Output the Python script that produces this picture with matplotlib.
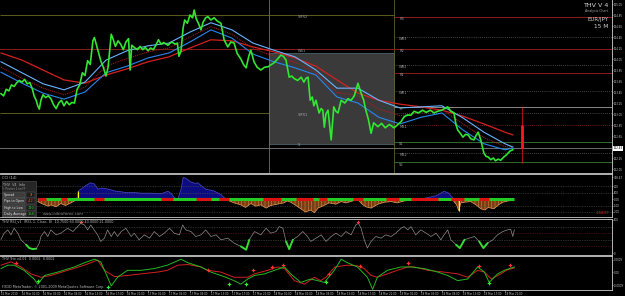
import matplotlib.pyplot as plt
import numpy as np
from matplotlib.patches import Rectangle

# ---------------------------------------------------------------
# EUR/JPY 15M chart, x in hours after 15 Mar 2010 21:00
# ---------------------------------------------------------------
time_ticks = list(range(0, 100, 4))
time_labels = ["15 Mar 2010", "16 Mar 01:00", "16 Mar 05:00", "16 Mar 09:00", "16 Mar 13:00",
               "16 Mar 17:00", "16 Mar 21:00", "17 Mar 01:00", "17 Mar 05:00", "17 Mar 09:00",
               "17 Mar 13:00", "17 Mar 17:00", "17 Mar 21:00", "18 Mar 01:00", "18 Mar 05:00",
               "18 Mar 09:00", "18 Mar 13:00", "18 Mar 17:00", "18 Mar 21:00", "19 Mar 01:00",
               "19 Mar 05:00", "19 Mar 09:00", "19 Mar 13:00", "19 Mar 17:00", "19 Mar 21:00"]

price_hours = [0.0, 0.5, 1.0, 1.5, 2.0, 2.5, 3.0, 3.5, 4.0, 4.5, 5.0, 5.5, 6.0, 6.3, 6.7, 7.0, 7.3, 7.6,
               8.0, 8.5, 9.0, 9.5, 10.0, 10.5, 11.0, 11.5, 12.0, 12.5, 13.0, 13.5, 14.0, 14.5, 15.0,
               15.5, 16.0, 16.5, 17.0, 17.5, 17.8, 18.2, 18.5, 19.0, 19.5, 20.0, 20.4, 20.7, 21.0,
               21.4, 21.8, 22.3, 22.8, 23.3, 23.8, 24.3, 24.6, 24.9, 25.4, 26.0, 26.5, 27.0, 27.5,
               28.0, 28.5, 29.0, 29.5, 30.0, 30.5, 31.0, 31.8, 32.5, 33.2, 33.6, 33.9, 34.3, 34.7,
               35.0, 35.5, 36.0, 36.5, 36.8, 37.2, 37.6, 38.1, 38.5, 39.0, 39.4, 40.0, 40.6, 41.2,
               41.9, 42.5, 43.2, 43.8, 44.4, 45.0, 45.7, 46.2, 46.7, 47.2, 47.6, 48.2, 48.8, 49.5,
               50.2, 50.9, 51.5, 52.0, 52.7, 53.3, 53.8, 54.3, 54.9, 55.4, 55.8, 56.5, 57.2, 57.7,
               58.1, 58.5, 58.9, 59.3, 59.6, 60.0, 60.6, 61.0, 61.3, 61.6, 61.9, 62.3, 62.9, 63.2,
               63.4, 63.8, 64.2, 64.8, 65.5, 66.1, 66.7, 67.3, 68.0, 68.6, 69.1, 69.5, 70.0, 70.5,
               71.0, 71.8, 72.5, 73.2, 74.0, 74.9, 75.5, 76.2, 76.8, 77.4, 78.1, 78.7, 79.5, 80.3,
               81.0, 81.8, 82.5, 83.2, 84.0, 84.5, 85.1, 85.7, 86.3, 86.7, 87.0, 87.5, 88.0, 88.5,
               89.0, 89.5, 90.1, 90.5, 90.9, 91.4, 92.0, 92.4, 92.8, 93.3, 93.8, 94.2, 94.7, 95.2,
               95.8, 96.2, 96.6, 97.0, 97.5]
price_close = [123.42, 123.38, 123.50, 123.47, 123.58, 123.55, 123.62, 123.66, 123.63, 123.68, 123.60,
               123.62, 123.50, 123.38, 123.30, 123.20, 123.14, 123.30, 123.40, 123.35, 123.38, 123.33,
               123.22, 123.15, 123.25, 123.30, 123.20, 123.28, 123.22, 123.26, 123.25, 123.50, 123.58,
               123.80, 123.75, 124.02, 123.95, 124.38, 124.44, 124.30, 124.20, 124.02, 123.90, 123.74,
               123.90, 124.20, 124.50, 124.40, 124.28, 124.38, 124.32, 124.22, 124.36, 124.42, 123.85,
               124.30, 124.26, 124.22, 124.28, 124.22, 124.26, 124.20, 124.25, 124.22, 124.30, 124.40,
               124.32, 124.35, 124.30, 124.36, 124.32, 124.34, 124.10, 124.20, 124.62, 124.76, 124.70,
               124.85, 124.80, 124.94, 124.78, 124.70, 124.58, 124.72, 124.80, 124.82, 124.76, 124.80,
               124.74, 124.70, 124.40, 124.27, 124.36, 124.34, 124.15, 124.05, 123.95, 123.89, 124.10,
               124.21, 124.00, 123.90, 123.85, 123.90, 123.91, 123.95, 123.98, 124.05, 124.12, 124.10,
               124.03, 123.72, 123.74, 123.70, 123.66, 123.72, 123.63, 123.70, 123.72, 123.30, 123.36,
               123.20, 123.30, 123.07, 123.15, 123.12, 122.81, 123.05, 123.12, 122.58, 122.95, 123.18,
               123.10, 123.07, 123.30, 123.25, 123.33, 123.30, 123.38, 123.61, 123.43, 123.30, 123.12,
               122.95, 122.70, 122.89, 122.82, 122.88, 122.80, 122.86, 122.80, 122.85, 122.91, 123.00,
               123.03, 123.03, 123.10, 123.07, 123.12, 123.08, 123.12, 123.07, 123.10, 123.12, 123.15,
               123.18, 123.10, 123.07, 122.85, 122.76, 122.70, 122.63, 122.68, 122.67, 122.60, 122.58,
               122.66, 122.72, 122.58, 122.34, 122.28, 122.27, 122.22, 122.25, 122.20, 122.23, 122.21,
               122.27, 122.30, 122.34, 122.38, 122.40]

# moving averages (every 4 hours)
ma_hours = [0, 4, 8, 12, 16, 20, 24, 28, 32, 36, 40, 44, 48, 52, 56, 60, 64, 68, 72, 76, 80, 84, 88,
            92, 96, 97.5]
ma_slow = [124.16, 124.03, 123.85, 123.67, 123.61, 123.76, 123.87, 124.00, 124.09, 124.25, 124.40,
           124.38, 124.27, 124.18, 124.07, 123.92, 123.67, 123.43, 123.30, 123.23, 123.18, 123.12,
           123.01, 122.87, 122.72, 122.67]
band_upper = [124.00, 123.80, 123.60, 123.49, 123.63, 124.03, 124.20, 124.29, 124.34, 124.54, 124.71,
              124.58, 124.34, 124.21, 124.09, 123.85, 123.52, 123.52, 123.30, 123.16, 123.18, 123.20,
              122.98, 122.72, 122.51, 122.45]
band_mid = [123.90, 123.70, 123.52, 123.40, 123.54, 123.92, 124.06, 124.18, 124.25, 124.45, 124.64,
            124.50, 124.24, 124.10, 123.99, 123.80, 123.44, 123.38, 123.14, 123.02, 123.08, 123.13,
            122.87, 122.62, 122.46, 122.44]
band_lower = [123.81, 123.61, 123.43, 123.32, 123.45, 123.80, 123.92, 124.07, 124.16, 124.36, 124.58,
              124.43, 124.14, 124.00, 123.89, 123.76, 123.36, 123.25, 122.99, 122.87, 122.99, 123.07,
              122.76, 122.51, 122.40, 122.43]

price_ticks = [125.05, 124.85, 124.65, 124.45, 124.25, 124.05, 123.85, 123.65, 123.45, 123.25,
               123.05, 122.85, 122.65, 122.25, 122.05]
bid_price = 122.43

# pivot levels drawn right of the session line
pivot_names = ["R3", "WR3", "R2", "WR2", "R1", "WR1", "PP", "", "MS1", "S1", "MS2", "S2"]
pivot_levels = [124.81, 124.45, 124.23, 123.94, 123.80, 123.47, 123.18, 123.06, 122.85, 122.55,
                122.35, 122.17]
pivot_styles = ["r", "d", "r", "d", "r", "d", "p", "d", "rd", "g", "d", "g"]
left_names = ["SMR2", "WS1", "SMR1", "S"]
left_levels = [124.85, 124.23, 123.07, 122.53]

session_start = 51.05
session_end = 74.86
box_top, box_bottom = 124.16, 122.50
day_hour = 99.2
day_high, day_low = 123.18, 122.16
day_open, day_close = 122.85, 122.43

# CCI (14)
cci_hours = [7.0, 8.0, 9.0, 9.5, 10.5, 11.4, 12.3, 13.3, 14.0, 14.5, 14.7, 15.2, 16.2, 17.1, 17.8,
             18.5, 19.2, 20.0, 21.0, 21.9, 23.0, 23.8, 25.3, 26.7, 28.6, 30.5, 31.8, 32.5, 33.0,
             33.7, 34.3, 34.7, 35.2, 36.2, 37.0, 37.5, 38.2, 39.0, 40.4, 41.9, 42.5, 43.2, 44.4,
             45.7, 46.6, 47.6, 48.5, 49.5, 50.5, 51.4, 52.6, 53.9, 54.5, 55.2, 56.2, 57.1, 58.0,
             59.0, 59.7, 60.4, 61.5, 62.5, 63.8, 64.8, 65.7, 67.0, 68.0, 68.8, 69.5, 70.5, 71.8,
             73.0, 74.3, 75.5, 76.8, 78.1, 79.3, 80.6, 81.8, 82.9, 83.8, 84.4, 85.3, 86.0, 86.3,
             86.8, 87.2, 87.6, 88.2, 89.5, 90.5, 91.4, 92.2, 92.8, 93.9, 94.8, 95.6, 96.6, 97.7]
cci_values = [-40, -80, -110, -90, -120, -70, -100, -60, -30, 20, 120, 150, 210, 250, 230, 150, 170,
              160, 140, 120, 110, 100, 100, 90, 90, 80, 120, 80, 20, 0, 150, 330, 320, 260, 240,
              250, 200, 150, 130, 70, 20, -20, -60, -90, -130, -70, -110, -90, -140, -100, -80,
              -60, -30, -50, -100, -150, -200, -170, -210, -140, -100, -60, -80, -40, -60, -30,
              -10, -80, -120, -140, -80, -50, -40, -60, -30, -20, -10, 10, 30, 50, 90, 120, 90, 20,
              -40, -90, -180, -60, -50, -40, -90, -150, -170, -130, -150, -90, -50, -30, -20]
cci_spike_hours = [14.7, 87.2]
cci_spike_values = [120, -180]
band_red_start = [7.0, 11.4, 17.7, 30.5, 37.1, 41.5, 49.9, 56.2, 60.6, 67.0, 73.3, 78.1, 85.7, 91.0]
band_red_end = [8.6, 12.6, 19.6, 32.8, 40.0, 43.4, 53.3, 59.4, 62.1, 69.0, 75.8, 83.2, 88.2, 93.0]
cci_levels = [200, 100, -100, -200]

info_rows = ["Spread", "Pips to Open", "High to Low", "Daily Average"]
info_values = ["3", "-42", "120", "158"]
info_colors = ["#ff9900", "#ff3333", "#33cc33", "#33cc33"]

# THV RSI
rsi_hours = [0, 0.6, 1.3, 1.9, 2.5, 3.2, 3.8, 4.8, 5.4, 6.0, 6.7, 7.3, 7.6, 8.3, 8.9, 9.5, 10.5, 11.4,
             12.7, 13.7, 14.6, 15.2, 15.9, 16.5, 17.1, 18.4, 19.0, 19.7, 20.3, 21.0, 21.6, 22.2, 22.9,
             23.8, 24.8, 25.4, 26.3, 27.3, 28.3, 29.2, 30.2, 31.1, 32.1, 33.0, 34.0, 34.6, 35.2,
             36.2, 37.1, 38.1, 39.0, 40.0, 41.0, 41.9, 43.2, 44.4, 45.7, 46.7, 47.3, 48.3, 49.5,
             50.5, 51.4, 52.4, 53.0, 53.7, 54.3, 54.9, 55.6, 56.5, 57.5, 58.4, 59.0, 60.0, 61.0,
             61.9, 62.9, 63.8, 64.8, 65.7, 66.7, 67.6, 68.1, 68.6, 69.2, 69.8, 70.5, 71.4, 72.4,
             73.3, 74.3, 75.2, 76.2, 76.8, 77.5, 78.1, 79.0, 80.0, 81.0, 81.9, 82.9, 83.8, 84.4,
             85.1, 85.7, 86.7, 87.4, 88.3, 89.2, 90.2, 91.1, 91.9, 92.7, 93.7, 94.6, 95.6, 96.5,
             97.1, 97.5, 97.8]
rsi_values = [41, 60, 70, 55, 75, 60, 40, 25, 15, 12, 13, 30, 50, 65, 50, 70, 55, 60, 75, 65, 80, 90,
              85, 70, 85, 55, 35, 45, 70, 50, 65, 50, 65, 75, 50, 60, 40, 55, 45, 65, 50, 60, 75, 60,
              55, 85, 70, 65, 50, 55, 70, 50, 55, 40, 45, 30, 20, 10, 40, 65, 55, 75, 60, 65, 80, 75,
              35, 12, 40, 50, 65, 50, 35, 45, 55, 35, 50, 60, 50, 65, 55, 85, 90, 75, 40, 15, 35, 50,
              45, 55, 50, 60, 75, 80, 70, 80, 55, 70, 60, 50, 60, 40, 55, 70, 40, 25, 15, 40, 45, 50,
              35, 15, 30, 40, 55, 65, 70, 72, 50, 70]
rsi_buy_start = [4.8, 45.0, 54.3, 86.7, 91.1]
rsi_buy_end = [6.7, 47.3, 55.6, 88.3, 92.7]
rsi_sell_hours = [15.2, 68.1]
rsi_sell_values = [94, 94]
rsi_levels = [80, 60, 40, 20]

# THV Trix
trix_green_hours = [0, 1.3, 2.5, 4.4, 6.3, 7.0, 8.3, 10.8, 14.0, 15.9, 17.8, 19.0, 20.3, 21.0, 22.2,
                    24.1, 26.7, 29.2, 31.7, 34.3, 35.6, 38.1, 40.0, 42.5, 44.4, 45.7, 47.0, 48.3,
                    50.2, 52.1, 54.0, 55.2, 57.1, 59.0, 60.3, 61.6, 63.5, 64.8, 66.0, 67.9, 69.8,
                    70.8, 71.7, 73.6, 76.2, 78.1, 80.6, 83.2, 85.1, 87.0, 88.9, 90.8, 92.1, 93.0,
                    94.6, 95.9, 97.8]
trix_green = [0.00024, 0.00045, 0.00045, 0.00013, -0.00041, -0.00073, -0.00019, 0.00002, 0.00034,
              0.00060, 0.00082, 0.00066, -0.00030, -0.00084, -0.00030, 0.00013, 0.00013, 0.00024,
              0.00045, 0.00082, 0.00060, 0.00034, 0.00002, -0.00026, -0.00051, -0.00073, -0.00041,
              -0.00019, -0.00009, 0.00013, 0.00034, -0.00009, -0.00062, -0.00041, -0.00051,
              -0.00062, 0.00013, 0.00082, 0.00060, 0.00034, -0.00030, -0.00105, -0.00030, 0.00013,
              0.00034, 0.00034, 0.00024, 0.00002, -0.00019, -0.00051, -0.00041, 0.00034, 0.00002,
              -0.00062, -0.00009, 0.00013, 0.00034]
trix_red_hours = [0, 1.9, 3.8, 5.7, 7.6, 9.5, 12.7, 15.9, 18.4, 19.7, 21.6, 24.1, 26.7, 29.8, 31.7,
                  33.7, 35.6, 38.1, 39.4, 41.9, 44.4, 47.0, 48.3, 50.8, 52.7, 54.0, 55.9, 57.8, 59.7,
                  60.9, 61.9, 63.6, 66.0, 67.9, 69.2, 70.5, 71.7, 73.6, 75.5, 77.5, 78.7, 81.3, 84.4,
                  87.0, 88.9, 90.8, 92.1, 93.4, 95.2, 96.5, 97.8]
trix_red = [0.00045, 0.00066, 0.00034, -0.00009, -0.00030, -0.00019, 0.00013, 0.00045, 0.00077,
            0.00013, -0.00026, -0.00019, -0.00009, 0.00002, 0.00013, 0.00045, 0.00049, 0.00034,
            0.00013, 0.00002, -0.00030, -0.00030, -0.00009, 0.00013, 0.00034, 0.00024, -0.00051,
            -0.00073, -0.00030, -0.00051, -0.00030, 0.00034, 0.00045, 0.00041, 0.00024, -0.00019,
            -0.00030, -0.00009, 0.00013, 0.00034, 0.00034, 0.00013, 0.00002, -0.00009, -0.00030,
            0.00013, 0.00002, -0.00041, -0.00009, 0.00017, 0.00028]
trix_sell_hours = [2.9, 39.4, 48.1, 51.7, 53.7, 62.5, 68.3, 77.5, 91.0, 96.9]
trix_sell_values = [0.00060, 0.00013, 0.00017, 0.00034, 0.00045, -0.00009, 0.00041, 0.00060,
                    0.00038, 0.00045]
trix_buy_hours = [7.0, 20.3, 43.5, 46.7, 61.9, 93.0]
trix_buy_values = [-0.00051, -0.00088, -0.00069, -0.00069, -0.00062, -0.00066]

# ---------------------------------------------------------------
plt.rcParams['font.family'] = ['DejaVu Sans']
plt.rcParams['hatch.linewidth'] = 0.4
fig = plt.figure(figsize=(6.25, 2.96), dpi=100, facecolor='black')
W = 612 / 625
ax1 = fig.add_axes([0, 1 - 173 / 296, W, 173 / 296])
ax2 = fig.add_axes([0, 1 - 217 / 296, W, 43 / 296])
ax3 = fig.add_axes([0, 1 - 255 / 296, W, 36.5 / 296])
ax4 = fig.add_axes([0, 1 - 289.8 / 296, W, 33.8 / 296])

label_color = '#c8c8c8'
for ax in [ax1, ax2, ax3, ax4]:
    ax.set_facecolor('black')
    ax.set_xlim(-0.19, 116.4)
    for side in ['top', 'bottom', 'right']:
        ax.spines[side].set_color('#cfcfcf')
        ax.spines[side].set_linewidth(0.6)
    ax.spines['left'].set_visible(False)
    ax.yaxis.tick_right()
    ax.tick_params(axis='y', colors=label_color, labelsize=1.9, length=1.0, width=0.4, pad=0.5)
    ax.tick_params(axis='x', bottom=False, labelbottom=False)
ax1.spines['top'].set_visible(False)

# ---- main price panel ----
ax1.set_ylim(121.978, 125.123)
ax1.add_patch(Rectangle((session_start, box_bottom), session_end - session_start, box_top - box_bottom,
                        facecolor='#3a3a3a', edgecolor='#55707a', linewidth=0.5, zorder=0))
ax1.axvline(session_start, color='#6e6e6e', lw=0.6, zorder=1)
ax1.axvline(session_end, color='#5f5f2a', lw=0.6, zorder=1)
ax1.hlines(124.85, -0.19, session_end, color='#6b6b23', lw=0.6, zorder=1)
ax1.hlines(123.07, -0.19, session_start, color='#6b6b23', lw=0.6, zorder=1)
ax1.axhline(124.23, color='#8b1a1a', lw=0.7, zorder=1)
ax1.axhline(bid_price, color='#7d7d7d', lw=0.6, zorder=1)

style_map = {"r": dict(color='#8b1a1a', ls='-', lw=0.7),
             "d": dict(color='#5a5a5a', ls=(0, (1, 1.5)), lw=0.6),
             "p": dict(color='#8a8a8a', ls='-', lw=0.7),
             "rd": dict(color='#8b2020', ls=(0, (1, 1.5)), lw=0.6),
             "g": dict(color='#2e6b2e', ls='-', lw=0.7)}
for name, level, st in zip(pivot_names, pivot_levels, pivot_styles):
    if name != "R2":
        ax1.hlines(level, session_end, 116.4, zorder=1, **style_map[st])
    if name:
        ax1.text(session_end + 1.0, level - 0.04, name, color='#9a9a9a', fontsize=2.6,
                 va='center', ha='left')
for name, level in zip(left_names, left_levels):
    ax1.text(56.6, level - 0.04, name, color='#a0a0a0', fontsize=2.6, va='center', ha='left')

ax1.plot(ma_hours, ma_slow, color='#d42020', lw=0.9, zorder=2)
ax1.plot(ma_hours, band_mid, color='#b02020', lw=0.7, ls=(0, (1, 1)), zorder=2)
ax1.plot(ma_hours, band_upper, color='#6ab4ff', lw=0.8, zorder=2)
ax1.plot(ma_hours, band_lower, color='#2a86ee', lw=0.8, zorder=2)
ax1.plot(price_hours, price_close, color='#32e632', lw=1.2, zorder=3)

ax1.vlines(day_hour, day_low, day_high, color='#cc1010', lw=0.6, zorder=3)
ax1.vlines(day_hour, day_close, day_open, color='#ff1a1a', lw=2.0, zorder=3)

ax1.set_yticks(price_ticks)
ax1.set_yticklabels([f"{p:.2f}" for p in price_ticks])
ax1.text(1.002, bid_price, f"{bid_price:.2f}", transform=ax1.get_yaxis_transform(), fontsize=1.9,
         color='black', va='center', ha='left',
         bbox=dict(boxstyle='square,pad=0.15', facecolor='white', edgecolor='none'))

ax1.text(0.9935, 1 - 5.3 / 173, "THV V 4", transform=ax1.transAxes, color='#d8d8d8', fontsize=4.6,
         ha='right', va='center')
ax1.text(0.9935, 1 - 10.7 / 173, "Analysis Chart", transform=ax1.transAxes, color='#a0a0a0',
         fontsize=2.3, ha='right', va='center')
ax1.text(0.9935, 1 - 20 / 173, "EUR/JPY", transform=ax1.transAxes, color='#d0d0d0', fontsize=4.0,
         ha='right', va='center')
ax1.text(0.9935, 1 - 26.7 / 173, "15 M", transform=ax1.transAxes, color='#d0d0d0', fontsize=4.2,
         ha='right', va='center')

# ---- CCI panel ----
ax2.set_ylim(-277, 385)
cx = np.array(cci_hours)
cy = np.array(cci_values)
for lvl in cci_levels:
    ax2.axhline(lvl, color='#555555', lw=0.5, ls=(0, (1, 1.5)))
ax2.fill_between(cx, cy, 0, where=cy >= 0, interpolate=True, facecolor='#0c0c80', edgecolor='none')
ax2.plot(cx, np.maximum(cy, 0), color='#4a4ad0', lw=0.5)
ax2.fill_between(cx, cy, 0, where=cy <= 0, interpolate=True, facecolor='#7a3c12',
                 edgecolor='#d88a40', hatch='|||||', linewidth=0)
ax2.plot(cx, np.minimum(cy, 0), color='#e8a060', lw=0.5)
ax2.vlines(cci_spike_hours, 0, cci_spike_values, color='#ffff00', lw=0.8)
ax2.hlines(0, cx[0], cx[-1], color='#22cc22', lw=2.2)
ax2.hlines([0] * len(band_red_start), band_red_start, band_red_end, color='#dd1111', lw=2.2)
ax2.set_yticks([338.47, 200, 100, 0, -100, -200])
ax2.set_yticklabels(["338.47", "200", "100", "0.00", "-100", "-200"])
ax2.text(2 / 612, (217 - 178) / 43, "CCI (14)", transform=ax2.transAxes, color='#bbbbbb',
         fontsize=2.6, va='center')
ax2.text(43 / 612, (217 - 214) / 43, "www.cobraforex.com", transform=ax2.transAxes,
         color='#8a8a8a', fontsize=2.8, va='center')
ax2.text(0.996, (217 - 213) / 43, "1.5837", transform=ax2.transAxes, color='#dd2222',
         fontsize=2.8, va='center', ha='right')

# info box
ax2.add_patch(Rectangle((2 / 612, 0.0), 34 / 612, (217 - 181) / 43, transform=ax2.transAxes,
                        facecolor='#262626', edgecolor='#555555', linewidth=0.4, zorder=4))
ax2.text(14 / 612, (217 - 185) / 43, "THV  V4  Info", transform=ax2.transAxes, color='#b0b0b0',
         fontsize=2.4, ha='center', va='center', zorder=5)
ax2.text(14 / 612, (217 - 189) / 43, "© Pointer 2 on FF", transform=ax2.transAxes,
         color='#909090', fontsize=1.9, ha='center', va='center', zorder=5)
row_y = [195, 201, 208, 214]
for name, val, col, y in zip(info_rows, info_values, info_colors, row_y):
    ax2.add_patch(Rectangle((3 / 612, (217 - y - 2.6) / 43), 22 / 612, 5.2 / 43,
                            transform=ax2.transAxes, facecolor='#3c3c3c', edgecolor='#606060',
                            linewidth=0.3, zorder=5))
    ax2.add_patch(Rectangle((26 / 612, (217 - y - 2.6) / 43), 9 / 612, 5.2 / 43,
                            transform=ax2.transAxes, facecolor='#1e1e1e', edgecolor='#606060',
                            linewidth=0.3, zorder=5))
    ax2.text(4 / 612, (217 - y) / 43, name, transform=ax2.transAxes, color='#e0e0e0',
             fontsize=2.3, va='center', zorder=6)
    ax2.text(30.5 / 612, (217 - y) / 43, val, transform=ax2.transAxes, color=col,
             fontsize=2.5, va='center', ha='center', zorder=6)

# ---- RSI panel ----
ax3.set_ylim(-6, 104.5)
level_colors = ['#5a5a5a', '#7a1a1a', '#5a5a5a', '#7a1a1a']
for lvl, col in zip(rsi_levels, level_colors):
    ax3.axhline(lvl, color=col, lw=0.5, ls=(0, (1, 1.5)))
rx = np.array(rsi_hours)
ry = np.array(rsi_values)
ax3.plot(rx, ry, color='#8c8c8c', lw=0.5)
for s, e in zip(rsi_buy_start, rsi_buy_end):
    m = (rx >= s) & (rx <= e)
    ax3.plot(rx[m], ry[m], color='#33dd33', lw=1.4, solid_capstyle='round')
ax3.plot(rsi_sell_hours, rsi_sell_values, ls='none', marker='P', ms=2.4, color='#ff3030', mew=0)
ax3.set_yticks([100, 0])
ax3.set_yticklabels(["100", "0"])
ax3.text(2 / 612, 0.93, "THV RSI_v1  (RSI, 1, Close, 8)  10.7500 60.0000 40.0000 21.0000",
         transform=ax3.transAxes, color='#bbbbbb', fontsize=2.4, va='center')

# ---- Trix panel ----
ax4.set_ylim(-0.00108, 0.00102)
ax4.plot(trix_red_hours, trix_red, color='#d42020', lw=0.7)
ax4.plot(trix_green_hours, trix_green, color='#22b822', lw=0.7)
ax4.plot(trix_sell_hours, trix_sell_values, ls='none', marker='P', ms=2.6, color='#ff3030', mew=0)
ax4.plot(trix_buy_hours, trix_buy_values, ls='none', marker='P', ms=2.6, color='#33ee33', mew=0)
ax4.set_yticks([0.0008, 0, -0.0008])
ax4.set_yticklabels(["0.0009", "0.00", "-0.0009"])
ax4.text(2 / 612, 0.91, "THV Trix v4.01  0.0002  0.0002", transform=ax4.transAxes, color='#bbbbbb',
         fontsize=2.4, va='center')
ax4.text(2 / 612, 0.09, "FXDD MetaTrader, © 2001-2009 MetaQuotes Software Corp.",
         transform=ax4.transAxes, color='#bbbbbb', fontsize=2.4, va='center')
ax4.set_xticks(time_ticks)
ax4.set_xticklabels(time_labels, ha='left')
ax4.tick_params(axis='x', bottom=True, labelbottom=True, colors=label_color, labelsize=1.9,
                length=1.2, width=0.4, pad=0.4, direction='out')

fig.savefig('out.png', dpi=100, facecolor='black')
